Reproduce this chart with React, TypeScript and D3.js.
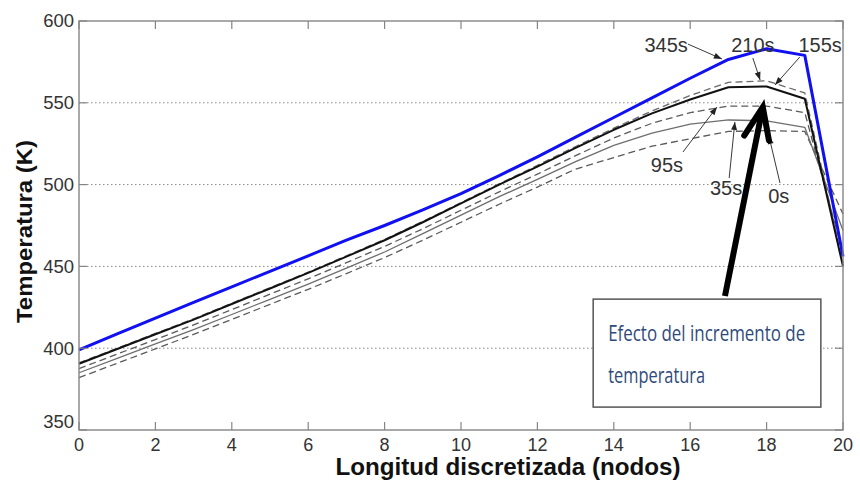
import React from "react";
import * as d3 from "d3";

// Discretised nodes along the length
const nodes: number[] = d3.range(0, 21);

// Temperature profiles (K) at each node for several times
const temp345s: number[] = [399, 408.7, 418.4, 428, 437.5, 447, 456.5, 466, 475, 484.5, 494.5, 505.5, 517, 529, 541, 553, 565, 576.5, 583, 579, 456];
const temp210s: number[] = [391, 400, 409, 418, 427.5, 437, 446.5, 456.5, 466.5, 477.5, 489, 500.5, 511.8, 523.3, 534.5, 545, 554.5, 562.5, 563.5, 556, 452];
const temp155s: number[] = [390.5, 399.5, 408.5, 417.5, 427, 436.5, 446, 456, 466, 477, 488.5, 500, 511, 522.5, 533.5, 543.5, 552, 559.5, 560, 552.5, 450];
const temp95s: number[] = [387.5, 396.4, 405.3, 414.2, 423.6, 433, 442.4, 452.3, 462.2, 473, 484.3, 495.6, 506.4, 517.7, 528.5, 537.5, 544, 548, 548, 544, 458];
const temp35s: number[] = [385, 393.8, 402.6, 411.4, 420.6, 429.9, 439.2, 449, 458.8, 470, 481.3, 492.6, 503.2, 514, 524, 531.5, 537, 539.5, 539, 535, 472];
const temp0s: number[] = [382, 390.8, 399.6, 408.4, 417.6, 426.8, 436, 445.6, 455.4, 466, 477, 488, 498.5, 509.5, 516.5, 523.5, 528, 532.5, 533, 532.5, 482];

const xTicks: number[] = [0, 2, 4, 6, 8, 10, 12, 14, 16, 18, 20];
const yTicks: number[] = [350, 400, 450, 500, 550, 600];

// Time labels with their pointer arrows, in data units
const labelNames: string[] = ["345s", "210s", "155s", "95s", "35s", "0s"];
const labelPos: [number, number][] = [[15.37, 581.1], [17.64, 581.1], [19.4, 581.1], [15.39, 507.7], [16.94, 493.6], [18.32, 488.8]];
const pointerFrom: [number, number][] = [[15.94, 585.9], [17.64, 577.4], [18.87, 578], [15.81, 519.9], [17.02, 504], [18.35, 501]];
const pointerTo: [number, number][] = [[16.83, 576.8], [17.83, 563.9], [18.22, 560.9], [16.7, 547.4], [17.17, 538.3], [18.06, 529.7]];

// Note box and its arrow, in data units
const boxCorners: [number, number][] = [[13.46, 430], [19.42, 364]];
const boxLines: string[] = ["Efecto del incremento de", "temperatura"];
const boxLineY: number[] = [404.4, 378.7];
const bigArrow: [number, number][] = [[16.91, 431.9], [17.9, 547.4]];

type Series = { values: number[]; color: string; width: number; dash?: string };
const series: Series[] = [
  { values: temp0s, color: "#5a5a5a", width: 1.3, dash: "7,4" },
  { values: temp35s, color: "#6e6e6e", width: 1.3 },
  { values: temp95s, color: "#5a5a5a", width: 1.3, dash: "7,4" },
  { values: temp210s, color: "#6a6a6a", width: 1.3, dash: "7,4" },
  { values: temp155s, color: "#111", width: 2 },
  { values: temp345s, color: "#1010f0", width: 3 },
];

const W = 860;
const H = 480;
const margin = { left: 79, right: 17, top: 21, bottom: 50 };
const font = "Arial, 'Liberation Sans', sans-serif";

export default function App() {
  const x = d3.scaleLinear().domain([0, 20]).range([margin.left, W - margin.right]);
  const y = d3.scaleLinear().domain([350, 600]).range([H - margin.bottom, margin.top]);
  const line = d3
    .line<number>()
    .x((_, i) => x(nodes[i]))
    .y((d) => y(d));

  const [x0, x1] = x.range();
  const [y0, y1] = y.range();
  const frame = "#858585";

  const arrowHead = (fx: number, fy: number, tx: number, ty: number, len: number, half: number) => {
    const a = Math.atan2(ty - fy, tx - fx);
    const bx = tx - len * Math.cos(a);
    const by = ty - len * Math.sin(a);
    const px = -Math.sin(a) * half;
    const py = Math.cos(a) * half;
    return `M${tx},${ty}L${bx + px},${by + py}L${bx - px},${by - py}Z`;
  };

  const bx0 = x(boxCorners[0][0]);
  const by0 = y(boxCorners[0][1]);
  const bx1 = x(boxCorners[1][0]);
  const by1 = y(boxCorners[1][1]);

  const ax0 = x(bigArrow[0][0]);
  const ay0 = y(bigArrow[0][1]);
  const ax1 = x(bigArrow[1][0]);
  const ay1 = y(bigArrow[1][1]);
  const ang = Math.atan2(ay1 - ay0, ax1 - ax0);
  const wing = (off: number) => [ax1 - 34 * Math.cos(ang + off), ay1 - 34 * Math.sin(ang + off)];
  const wl = wing(0.38);
  const wr = wing(-0.38);

  return (
    <svg width={W} height={H} style={{ position: "absolute", left: 0, top: 0, background: "#fff" }}>
      <rect width={W} height={H} fill="#fff" />
      {/* horizontal grid */}
      {yTicks
        .filter((t) => t !== 350 && t !== 600)
        .map((t) => (
          <line key={"g" + t} x1={x0} x2={x1} y1={y(t)} y2={y(t)} stroke="#8a8a8a" strokeWidth={1} strokeDasharray="1.5,2.5" />
        ))}

      {/* temperature profiles */}
      {series.map((s, i) => (
        <path
          key={"s" + i}
          d={line(s.values) || ""}
          fill="none"
          stroke={s.color}
          strokeWidth={s.width}
          strokeDasharray={s.dash}
          strokeLinejoin="round"
        />
      ))}

      {/* frame and ticks */}
      <rect x={x0} y={y1} width={x1 - x0} height={y0 - y1} fill="none" stroke={frame} strokeWidth={1.4} />
      {xTicks.map((t) => (
        <g key={"xt" + t}>
          <line x1={x(t)} x2={x(t)} y1={y0} y2={y0 - 8} stroke={frame} strokeWidth={1.2} />
          <line x1={x(t)} x2={x(t)} y1={y1} y2={y1 + 8} stroke={frame} strokeWidth={1.2} />
          <text x={x(t)} y={y0 + 21} textAnchor="middle" fontFamily={font} fontSize={18} fill="#333">
            {t}
          </text>
        </g>
      ))}
      {yTicks.map((t) => (
        <g key={"yt" + t}>
          <line x1={x0} x2={x0 + 8} y1={y(t)} y2={y(t)} stroke={frame} strokeWidth={1.2} />
          <line x1={x1} x2={x1 - 8} y1={y(t)} y2={y(t)} stroke={frame} strokeWidth={1.2} />
          <text
            x={x0 - 5}
            y={y(t) + (t === 350 ? -8 : 0)}
            dy="0.35em"
            textAnchor="end"
            fontFamily={font}
            fontSize={18.5}
            fill="#333"
          >
            {t}
          </text>
        </g>
      ))}

      {/* axis titles */}
      <text x={508} y={475} textAnchor="middle" fontFamily={font} fontSize={23} fontWeight="bold" fill="#111" textLength={345} lengthAdjust="spacingAndGlyphs">
        Longitud discretizada (nodos)
      </text>
      <text
        transform={`translate(32,${(y0 + y1) / 2 + 6}) rotate(-90)`}
        textAnchor="middle"
        fontFamily={font}
        fontSize={22}
        fontWeight="bold"
        fill="#111"
        textLength={183}
        lengthAdjust="spacingAndGlyphs"
      >
        Temperatura (K)
      </text>

      {/* time labels with pointers */}
      {labelNames.map((name, i) => {
        const fx = x(pointerFrom[i][0]);
        const fy = y(pointerFrom[i][1]);
        const tx = x(pointerTo[i][0]);
        const ty = y(pointerTo[i][1]);
        return (
          <g key={"l" + name}>
            <line x1={fx} y1={fy} x2={tx} y2={ty} stroke="#3a3a3a" strokeWidth={1} />
            <path d={arrowHead(fx, fy, tx, ty, 8, 3)} fill="#222" />
            <text x={x(labelPos[i][0])} y={y(labelPos[i][1])} textAnchor="middle" fontFamily={font} fontSize={20} fill="#333">
              {name}
            </text>
          </g>
        );
      })}

      {/* note box */}
      <rect x={bx0} y={by0} width={bx1 - bx0} height={by1 - by0} fill="#fff" stroke="#555" strokeWidth={1.5} />
      {boxLines.map((s, i) => (
        <text
          key={"b" + i}
          x={bx0 + 15}
          y={y(boxLineY[i])}
          fontFamily="'Liberation Sans Narrow', 'Arial Narrow', 'Open Sans', sans-serif"
          fontSize={21}
          fill="#2f4a7a"
          textLength={i === 0 ? 197 : 97}
          lengthAdjust="spacingAndGlyphs"
        >
          {s}
        </text>
      ))}

      {/* arrow from the note to the curves */}
      <line x1={ax0} y1={ay0} x2={ax1 - 3 * Math.cos(ang)} y2={ay1 - 3 * Math.sin(ang)} stroke="#000" strokeWidth={6} />
      <path
        d={`M${wl[0]},${wl[1]}L${ax1},${ay1}L${wr[0]},${wr[1]}`}
        fill="none"
        stroke="#000"
        strokeWidth={6}
        strokeLinejoin="miter"
        strokeLinecap="round"
      />
    </svg>
  );
}
